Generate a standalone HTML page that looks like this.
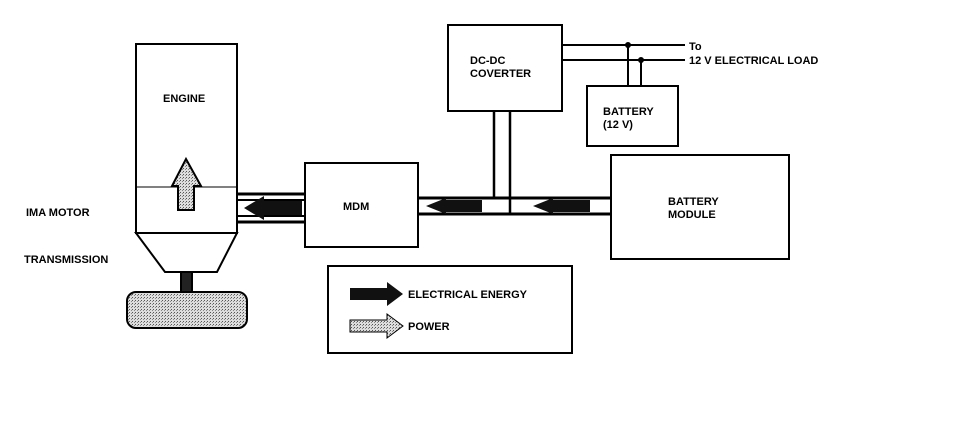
<!DOCTYPE html>
<html><head><style>body{margin:0;background:#fff}svg{display:block}text{font-family:"Liberation Sans",sans-serif;font-weight:bold;font-size:11px;fill:#000}</style></head>
<body>
<svg width="960" height="428" viewBox="0 0 960 428">
<defs>
<pattern id="g" width="3" height="3" patternUnits="userSpaceOnUse"><rect width="3" height="3" fill="#ddd"/><rect width="1" height="1" fill="#555"/><rect x="2" y="1" width="1" height="1" fill="#888"/></pattern>
</defs>
<g stroke="#000" stroke-width="2" fill="#fff">
<rect x="136" y="44" width="101" height="189"/>
<line x1="136" y1="187" x2="237" y2="187" stroke-width="1"/>
<polygon points="136,233 237,233 217,272 165,272"/>
<rect x="181" y="272" width="11" height="20" fill="#222"/>
<rect x="127" y="292" width="120" height="36" rx="9" fill="url(#g)"/>
<polygon points="178,210 178,186 172,186 186,159 201,186 194,186 194,210" fill="url(#g)"/>
<rect x="305" y="163" width="113" height="84"/>
<rect x="448" y="25" width="114" height="86"/>
<rect x="587" y="86" width="91" height="60"/>
<rect x="611" y="155" width="178" height="104"/>
<rect x="328" y="266" width="244" height="87"/>
</g>
<g stroke="#000" stroke-width="3" fill="none">
<line x1="237" y1="194" x2="305" y2="194"/>
<line x1="237" y1="222" x2="305" y2="222"/>
<line x1="237" y1="200" x2="305" y2="200" stroke-width="2"/>
<line x1="237" y1="216" x2="305" y2="216" stroke-width="2"/>
<line x1="418" y1="198" x2="611" y2="198"/>
<line x1="418" y1="214" x2="611" y2="214"/>
<line x1="494" y1="111" x2="494" y2="198" stroke-width="2.5"/>
<line x1="510" y1="111" x2="510" y2="214" stroke-width="2.5"/>
<line x1="562" y1="45" x2="685" y2="45" stroke-width="2"/>
<line x1="562" y1="60" x2="685" y2="60" stroke-width="2"/>
<line x1="628" y1="45" x2="628" y2="86" stroke-width="2"/>
<line x1="641" y1="60" x2="641" y2="86" stroke-width="2"/>
</g>
<circle cx="628" cy="45" r="3"/><circle cx="641" cy="60" r="3"/>
<polygon points="244,208 264,196 264,201 302,201 302,215 264,215 264,220" fill="#111"/>
<polygon points="426,206 446,198 446,200 482,200 482,212 446,212 446,214" fill="#111"/>
<polygon points="533,206 553,198 553,200 590,200 590,212 553,212 553,214" fill="#111"/>
<polygon points="350,288 387,288 387,282 403,294 387,306 387,300 350,300" fill="#111"/>
<polygon points="350,320 387,320 387,314 403,326 387,338 387,332 350,332" fill="url(#g)" stroke="#000" stroke-width="1"/>
<text x="163" y="102">ENGINE</text>
<text x="343" y="210">MDM</text>
<text x="470" y="64">DC-DC</text>
<text x="470" y="77">COVERTER</text>
<text x="603" y="115">BATTERY</text>
<text x="603" y="128">(12 V)</text>
<text x="668" y="205">BATTERY</text>
<text x="668" y="218">MODULE</text>
<text x="689" y="50">To</text>
<text x="689" y="64">12 V ELECTRICAL LOAD</text>
<text x="26" y="216">IMA MOTOR</text>
<text x="24" y="263">TRANSMISSION</text>
<text x="408" y="298">ELECTRICAL ENERGY</text>
<text x="408" y="330">POWER</text>
</svg>
</body></html>
